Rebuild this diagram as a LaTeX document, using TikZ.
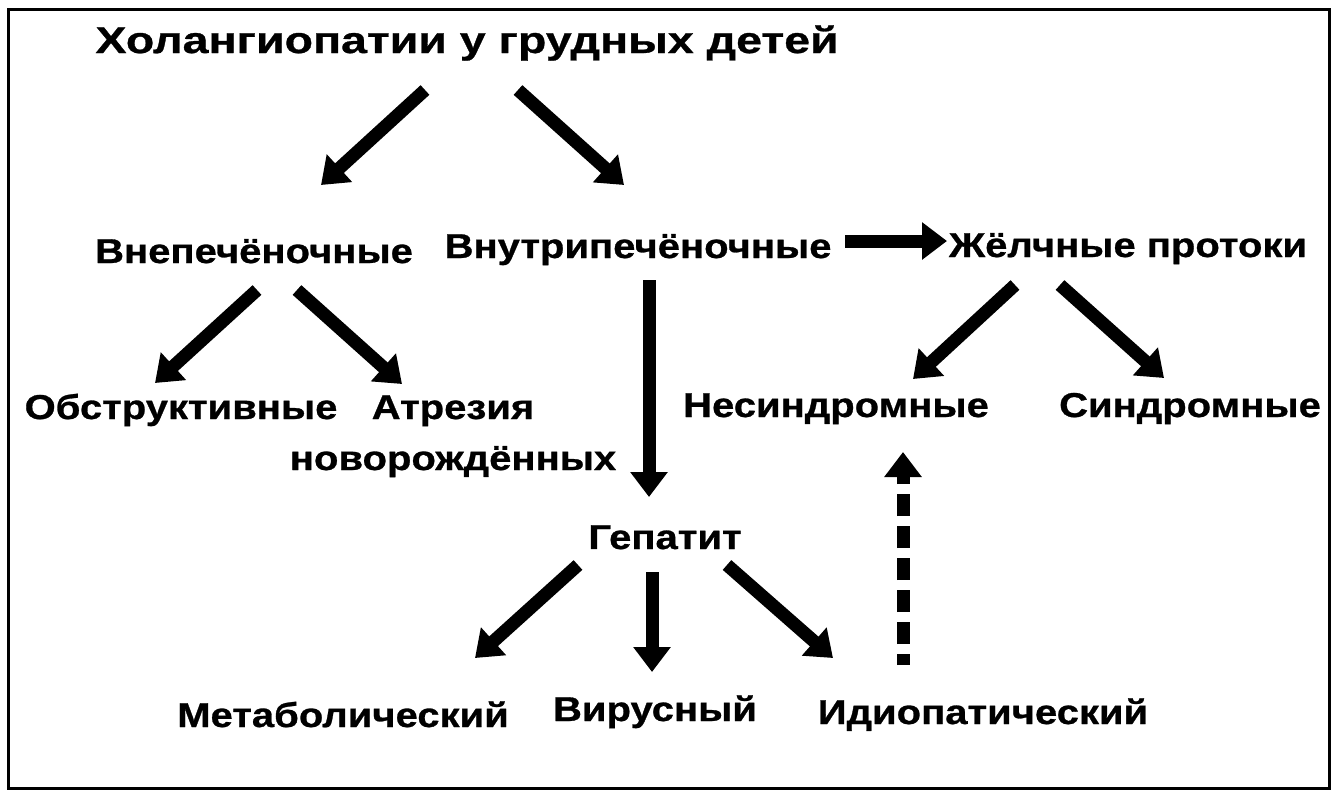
\documentclass[tikz,border=0pt]{standalone}
\usepackage{fontspec}
\setmainfont{Liberation Sans}
\newfontfamily\lblfont{Liberation Sans}[FakeStretch=1.16, BoldFeatures={FakeBold=0.8}]
\newfontfamily\titlefont{Liberation Sans}[FakeStretch=1.25, BoldFeatures={FakeBold=0.8}]
\usetikzlibrary{arrows.meta}
\tikzset{
  lbl/.style={font=\lblfont\bfseries\fontsize{34.5}{51}\selectfont, inner sep=0pt, anchor=base, align=center},
  ttl/.style={font=\titlefont\bfseries\fontsize{37.2}{44}\selectfont, inner sep=0pt, anchor=base},
  arr/.style={line width=13pt, -{Triangle[width=36pt,length=25pt]}},
  darr/.style={arr, dash pattern=on 22pt off 10pt, dash phase=11pt},
}
\begin{document}
\begin{tikzpicture}[x=1pt,y=-1pt]
\useasboundingbox (0,0) rectangle (1340,795);
\draw[line width=3pt] (8,9) rectangle (1329,788);
% nodes
\node[ttl] (title) at (467,53) {Холангиопатии у грудных детей};
\node[lbl] (vne) at (254,263) {Внепечёночные};
\node[lbl] (vnu) at (638,258) {Внутрипечёночные};
\node[lbl] (zhp) at (1128,257) {Жёлчные протоки};
\node[lbl] (obs) at (181,419) {Обструктивные};
\node[lbl] (atr) at (453,470) {Атрезия\\новорождённых};
\node[lbl] (nes) at (836,417) {Несиндромные};
\node[lbl] (sin) at (1190,417) {Синдромные};
\node[lbl] (gep) at (665,549) {Гепатит};
\node[lbl] (met) at (343,727) {Метаболический};
\node[lbl] (vir) at (655,721) {Вирусный};
\node[lbl] (idi) at (983,724) {Идиопатический};
% connector end points
\coordinate (t1) at (425,90);  \coordinate (h1) at (321,185);
\coordinate (t2) at (518,90);  \coordinate (h2) at (624,185);
\coordinate (t3) at (845,241); \coordinate (h3) at (947,241);
\coordinate (t4) at (257,290); \coordinate (h4) at (155,383);
\coordinate (t5) at (297,290); \coordinate (h5) at (402,384);
\coordinate (t6) at (649,280); \coordinate (h6) at (649,497);
\coordinate (t7) at (1015,285); \coordinate (h7) at (913,379);
\coordinate (t8) at (1060,285); \coordinate (h8) at (1164,378);
\coordinate (t9) at (578,565); \coordinate (h9) at (475,658);
\coordinate (t10) at (652,572); \coordinate (h10) at (652,672);
\coordinate (t11) at (727,565); \coordinate (h11) at (833,658);
\coordinate (t12) at (903,665); \coordinate (h12) at (903,452);
% connectors
\draw[arr] (t1) -- (h1);
\draw[arr] (t2) -- (h2);
\draw[arr] (t3) -- (h3);
\draw[arr] (t4) -- (h4);
\draw[arr] (t5) -- (h5);
\draw[arr] (t6) -- (h6);
\draw[arr] (t7) -- (h7);
\draw[arr] (t8) -- (h8);
\draw[arr] (t9) -- (h9);
\draw[arr] (t10) -- (h10);
\draw[arr] (t11) -- (h11);
\draw[darr] (t12) -- (h12);
\end{tikzpicture}
\end{document}
